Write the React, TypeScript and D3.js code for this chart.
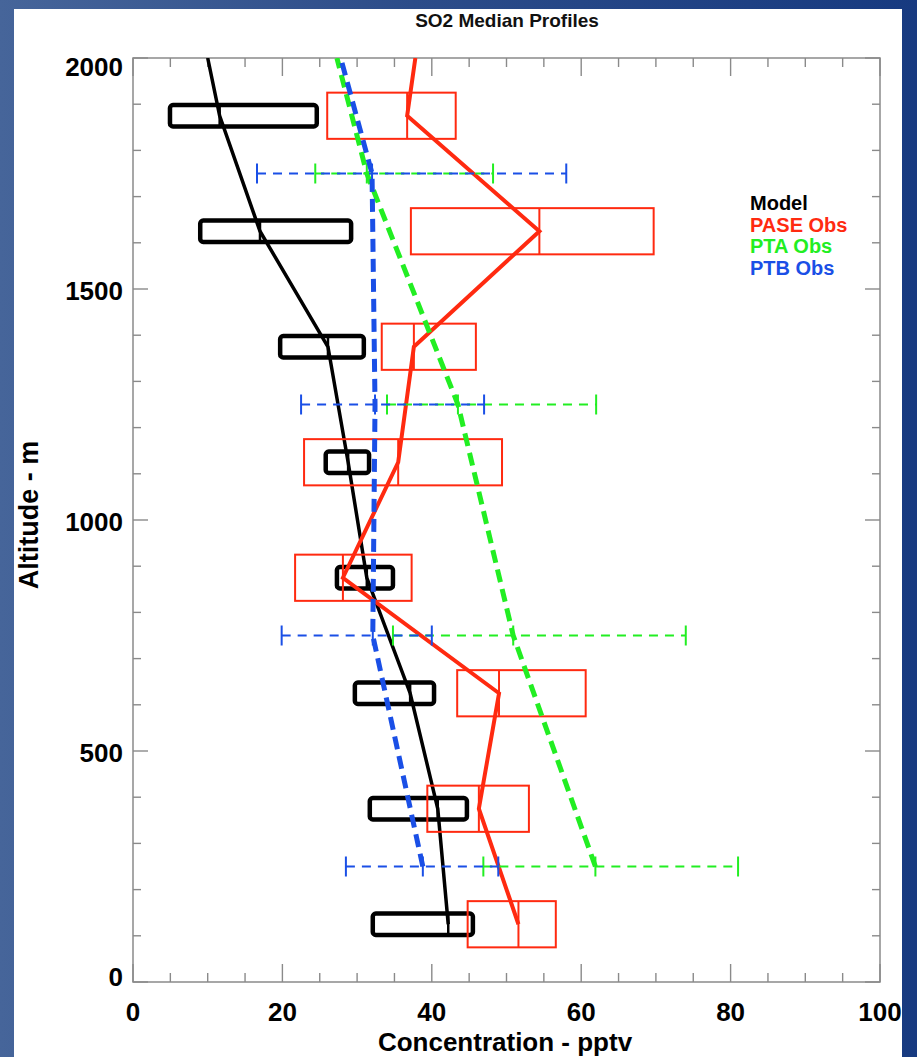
import React from "react";
import * as d3 from "d3";

// ---- Data ----
const ALT_BINS = [125, 375, 625, 875, 1125, 1375, 1625, 1875];

const MODEL_LO = [32.1, 31.7, 29.7, 27.3, 25.8, 19.7, 9.0, 4.95];
const MODEL_MED = [42.2, 40.8, 37.1, 31.3, 28.8, 26.1, 17.0, 11.6];
const MODEL_HI = [45.5, 44.7, 40.3, 34.8, 31.6, 30.9, 29.2, 24.6];
const MODEL_TOP = 10.0; // value where model profile meets 2000 m

const PASE_LO = [44.8, 39.4, 43.4, 21.7, 22.9, 33.3, 37.2, 26.0];
const PASE_MED = [51.6, 46.3, 49.0, 28.1, 35.5, 37.6, 54.4, 36.7];
const PASE_HI = [56.6, 53.0, 60.6, 37.3, 49.4, 45.9, 69.7, 43.2];
const PASE_TOP = 37.8;

const OBS_ALTS = [250, 750, 1250, 1750];
const PTA_LO = [46.9, 34.8, 34.0, 24.4];
const PTA_MED = [61.9, 50.9, 43.5, 31.3];
const PTA_HI = [81.0, 74.0, 62.0, 48.2];
const PTA_TOP = 27.3;

const PTB_LO = [28.5, 19.9, 22.5, 16.6];
const PTB_MED = [38.8, 32.1, 32.4, 32.0];
const PTB_HI = [48.9, 40.0, 47.0, 58.0];
const PTB_TOP = 27.8;

const X_TICKS = [0, 20, 40, 60, 80, 100];
const Y_TICKS = [0, 500, 1000, 1500, 2000];

const LEGEND_LABELS = ["Model", "PASE Obs", "PTA Obs", "PTB Obs"];
const LEGEND_COLORS = ["#000000", "#ff2a10", "#22ee22", "#1a4fe6"];

const TITLE = "SO2 Median Profiles";
const X_TITLE = "Concentration - pptv";
const Y_TITLE = "Altitude - m";

// ---- Layout ----
const W = 917;
const H = 1057;
const L = 133, R = 880, T = 58, B = 982;
const FONT = "'Liberation Sans', Arial, Helvetica, sans-serif";
const AXIS_COL = "#8a8a8a";

const RED = LEGEND_COLORS[1];
const GREEN = LEGEND_COLORS[2];
const BLUE = LEGEND_COLORS[3];

export default function App() {
  const x = d3.scaleLinear().domain([0, 100]).range([L, R]);
  const y = d3.scaleLinear().domain([0, 2000]).range([B, T]);

  const line = d3
    .line<[number, number]>()
    .x((d) => x(d[0]))
    .y((d) => y(d[1]));

  const modelPts: [number, number][] = [
    ...ALT_BINS.map((a, i) => [MODEL_MED[i], a] as [number, number]),
    [MODEL_TOP, 2000],
  ];
  const pasePts: [number, number][] = [
    ...ALT_BINS.map((a, i) => [PASE_MED[i], a] as [number, number]),
    [PASE_TOP, 2000],
  ];
  const ptaPts: [number, number][] = [
    ...OBS_ALTS.map((a, i) => [PTA_MED[i], a] as [number, number]),
    [PTA_TOP, 2000],
  ];
  const ptbPts: [number, number][] = [
    ...OBS_ALTS.map((a, i) => [PTB_MED[i], a] as [number, number]),
    [PTB_TOP, 2000],
  ];

  const xMinor = d3.range(0, 101, 5);
  const yMinor = d3.range(0, 2001, 100);

  const modelHalf = 23;
  const paseHalf = 50;

  const errBar = (
    lo: number[],
    med: number[],
    hi: number[],
    color: string,
    key: string
  ) =>
    OBS_ALTS.map((a, i) => {
      const yy = y(a);
      return (
        <g key={key + i} stroke={color} strokeWidth={2} fill="none">
          <line
            x1={x(lo[i])}
            x2={x(hi[i])}
            y1={yy}
            y2={yy}
            strokeDasharray="9 7"
          />
          {[lo[i], med[i], hi[i]].map((v, j) => (
            <line key={j} x1={x(v)} x2={x(v)} y1={yy - 10} y2={yy + 10} />
          ))}
        </g>
      );
    });

  const yLabelCenter = (v: number) =>
    Math.min(Math.max(y(v) + 1, T + 8), B - 6);

  return (
    <svg
      width={W}
      height={H}
      style={{ position: "absolute", left: 0, top: 0 }}
      fontFamily={FONT}
    >
      <defs>
        <linearGradient id="bg" x1="0" y1="0" x2="1" y2="0">
          <stop offset="0" stopColor="#46659a" />
          <stop offset="0.45" stopColor="#2c4c89" />
          <stop offset="1" stopColor="#173a80" />
        </linearGradient>
        <clipPath id="plot">
          <rect x={L} y={T} width={R - L} height={B - T} />
        </clipPath>
      </defs>
      <rect x={0} y={0} width={W} height={H} fill="url(#bg)" />
      <rect x={14} y={9} width={902 - 14} height={H - 9} fill="#ffffff" />

      {/* Title */}
      <text
        x={507}
        y={27}
        textAnchor="middle"
        fontSize={19}
        fontWeight="bold"
        fill="#111"
      >
        {TITLE}
      </text>

      {/* Axes frame */}
      <rect
        x={L}
        y={T}
        width={R - L}
        height={B - T}
        fill="none"
        stroke={AXIS_COL}
        strokeWidth={1.5}
      />
      <g stroke={AXIS_COL} strokeWidth={1.4}>
        {xMinor.map((v) => {
          const len = v % 20 === 0 ? 18 : 9;
          return (
            <g key={"xt" + v}>
              <line x1={x(v)} x2={x(v)} y1={B} y2={B - len} />
              <line x1={x(v)} x2={x(v)} y1={T} y2={T + len} />
            </g>
          );
        })}
        {yMinor.map((v) => {
          const len = v % 500 === 0 ? 15 : 8;
          return (
            <g key={"yt" + v}>
              <line x1={L} x2={L + len} y1={y(v)} y2={y(v)} />
              <line x1={R} x2={R - len} y1={y(v)} y2={y(v)} />
            </g>
          );
        })}
      </g>

      {/* Tick labels */}
      {X_TICKS.map((v) => (
        <text
          key={"xl" + v}
          x={x(v)}
          y={1021}
          textAnchor="middle"
          fontSize={26}
          fontWeight="bold"
          fill="#000"
        >
          {v}
        </text>
      ))}
      {Y_TICKS.map((v) => (
        <text
          key={"yl" + v}
          x={123}
          y={yLabelCenter(v) + 9.5}
          textAnchor="end"
          fontSize={26}
          fontWeight="bold"
          fill="#000"
        >
          {v}
        </text>
      ))}

      {/* Axis titles */}
      <text
        x={505}
        y={1051}
        textAnchor="middle"
        fontSize={26}
        fontWeight="bold"
        fill="#000"
      >
        {X_TITLE}
      </text>
      <text
        transform={`translate(38,515) rotate(-90)`}
        textAnchor="middle"
        fontSize={27}
        fontWeight="bold"
        fill="#000"
      >
        {Y_TITLE}
      </text>

      <g clipPath="url(#plot)">
        {/* Model boxes */}
        {ALT_BINS.map((a, i) => (
          <g key={"mb" + i} stroke="#000" fill="none">
            <rect
              x={x(MODEL_LO[i])}
              y={y(a + modelHalf)}
              width={x(MODEL_HI[i]) - x(MODEL_LO[i])}
              height={y(a - modelHalf) - y(a + modelHalf)}
              rx={3}
              strokeWidth={4.5}
              strokeLinejoin="round"
            />
            <line
              x1={x(MODEL_MED[i])}
              x2={x(MODEL_MED[i])}
              y1={y(a + modelHalf)}
              y2={y(a - modelHalf)}
              strokeWidth={2.5}
            />
          </g>
        ))}
        <path
          d={line(modelPts) || ""}
          fill="none"
          stroke="#000"
          strokeWidth={3.5}
        />

        {/* PASE boxes */}
        {ALT_BINS.map((a, i) => (
          <g key={"pb" + i} stroke={RED} fill="none" strokeWidth={2}>
            <rect
              x={x(PASE_LO[i])}
              y={y(a + paseHalf)}
              width={x(PASE_HI[i]) - x(PASE_LO[i])}
              height={y(a - paseHalf) - y(a + paseHalf)}
            />
            <line
              x1={x(PASE_MED[i])}
              x2={x(PASE_MED[i])}
              y1={y(a + paseHalf)}
              y2={y(a - paseHalf)}
            />
          </g>
        ))}
        <path
          d={line(pasePts) || ""}
          fill="none"
          stroke={RED}
          strokeWidth={4}
          strokeLinejoin="miter"
        />

        {/* PTA */}
        {errBar(PTA_LO, PTA_MED, PTA_HI, GREEN, "pta")}
        <path
          d={line(ptaPts) || ""}
          fill="none"
          stroke={GREEN}
          strokeWidth={5}
          strokeDasharray="13 7"
        />

        {/* PTB */}
        {errBar(PTB_LO, PTB_MED, PTB_HI, BLUE, "ptb")}
        <path
          d={line(ptbPts) || ""}
          fill="none"
          stroke={BLUE}
          strokeWidth={5}
          strokeDasharray="13 7"
        />
      </g>

      {/* Legend */}
      {LEGEND_LABELS.map((lab, i) => (
        <text
          key={lab}
          x={750}
          y={210 + i * 21.7}
          fontSize={20}
          fontWeight="bold"
          fill={LEGEND_COLORS[i]}
        >
          {lab}
        </text>
      ))}
    </svg>
  );
}
